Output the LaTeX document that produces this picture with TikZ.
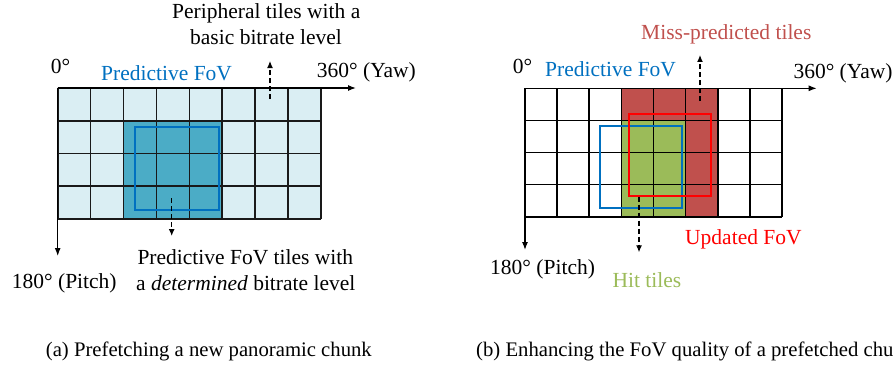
\documentclass[tikz,border=0pt]{standalone}
\usepackage{fontspec}
\setmainfont{Liberation Serif}
\usetikzlibrary{arrows.meta}
\definecolor{lightcell}{HTML}{DAEEF3}
\definecolor{darkcell}{HTML}{4BACC6}
\definecolor{fovblue}{HTML}{0070C0}
\definecolor{missred}{HTML}{C0504D}
\definecolor{hitgreen}{HTML}{9BBB59}
\definecolor{updred}{HTML}{FF0000}
\begin{document}
\begin{tikzpicture}[x=1pt,y=-1pt,
  lbl/.style={anchor=base west, inner sep=0pt, font=\fontsize{21.5}{26}\selectfont},
  captext/.style={anchor=base west, inner sep=0pt, font=\fontsize{20.7}{24}\selectfont},
  gridline/.style={line width=1.6pt, draw=black!90},
  axis/.style={line width=1.2pt, -{Latex[length=8pt,width=6pt]}},
  dasharrow/.style={line width=1.2pt, dash pattern=on 5pt off 3pt, -{Latex[length=7pt,width=6pt]}},
  fovbox/.style={line width=1.8pt}]
\useasboundingbox (0,0) rectangle (896,369);
% ---------------- (a) ----------------
\fill[lightcell] (57.7,88) rectangle (321,219);
\fill[darkcell] (123.5,120.75) rectangle (222.2,219);
\foreach \i in {0,...,8} \draw[gridline] ({57.7+\i*32.9125},88) -- ({57.7+\i*32.9125},219);
\foreach \j in {0,...,4} \draw[gridline] (57.7,{88+\j*32.75}) -- (321,{88+\j*32.75});
\draw[fovbox, fovblue] (135,126.7) rectangle (218.7,210.3);
\coordinate (oA) at (57.7,88);
\coordinate (yawA) at (356,88);
\coordinate (pitchA) at (57.7,256);
\draw[axis] (oA) -- (yawA);
\draw[axis] (oA) -- (pitchA);
\node[lbl] (zeroA) at (50.7,74) {0°};
\node[lbl, text=fovblue] (fovA) at (101,80.7) {Predictive FoV};
\node[lbl] (yawlblA) at (316.7,77.3) {360° (Yaw)};
\node[lbl] (peri1) at (172,19) {Peripheral tiles with a};
\node[lbl] (peri2) at (190,45) {basic bitrate level};
\node[lbl] (pred1) at (137.3,264.3) {Predictive FoV tiles with};
\node[lbl] (pred2) at (136,290.7) {a \textit{determined} bitrate level};
\node[lbl] (pitchlblA) at (11.7,288.3) {180° (Pitch)};
\coordinate (upS) at (270,99);
\coordinate (upE) at (270,61);
\draw[dasharrow] (upS) -- (upE);
\coordinate (dnS) at (171.7,198);
\coordinate (dnE) at (171.7,236);
\draw[dasharrow] (dnS) -- (dnE);
\node[captext] (capA) at (45.7,356.7) {(a) Prefetching a new panoramic chunk};
% ---------------- (b) ----------------
\fill[missred] (621.4,88.3) rectangle (717.6,216.7);
\fill[hitgreen] (621.4,120.4) rectangle (685.5,216.7);
\foreach \i in {0,...,8} \draw[gridline, draw=black] ({525+\i*32.125},88.3) -- ({525+\i*32.125},216.7);
\foreach \j in {0,...,4} \draw[gridline, draw=black] (525,{88.3+\j*32.1}) -- (782,{88.3+\j*32.1});
\draw[fovbox, fovblue] (600.3,126) rectangle (681.7,207.7);
\draw[fovbox, updred] (629,114.3) rectangle (710.7,195.7);
\coordinate (oB) at (525,88.3);
\coordinate (yawB) at (816.7,88.3);
\coordinate (pitchB) at (525,250);
\draw[axis] (oB) -- (yawB);
\draw[axis] (oB) -- (pitchB);
\node[lbl] (zeroB) at (512.7,74) {0°};
\node[lbl, text=fovblue] (fovB) at (545,76) {Predictive FoV};
\node[lbl] (yawlblB) at (793.3,78.3) {360° (Yaw)};
\node[lbl, text=missred] (miss) at (641,39.3) {Miss-predicted tiles};
\node[lbl, text=updred] (upd) at (685,244) {Updated FoV};
\node[lbl] (pitchlblB) at (490,274) {180° (Pitch)};
\node[lbl, text=hitgreen] (hit) at (612.3,287.3) {Hit tiles};
\coordinate (upSB) at (700,101);
\coordinate (upEB) at (700,55);
\draw[dasharrow] (upSB) -- (upEB);
\coordinate (dnSB) at (639,196.7);
\coordinate (dnEB) at (639,252.3);
\draw[dasharrow] (dnSB) -- (dnEB);
\node[captext] (capB) at (476,356.7) {(b) Enhancing the FoV quality of a prefetched chu};
\end{tikzpicture}
\end{document}
